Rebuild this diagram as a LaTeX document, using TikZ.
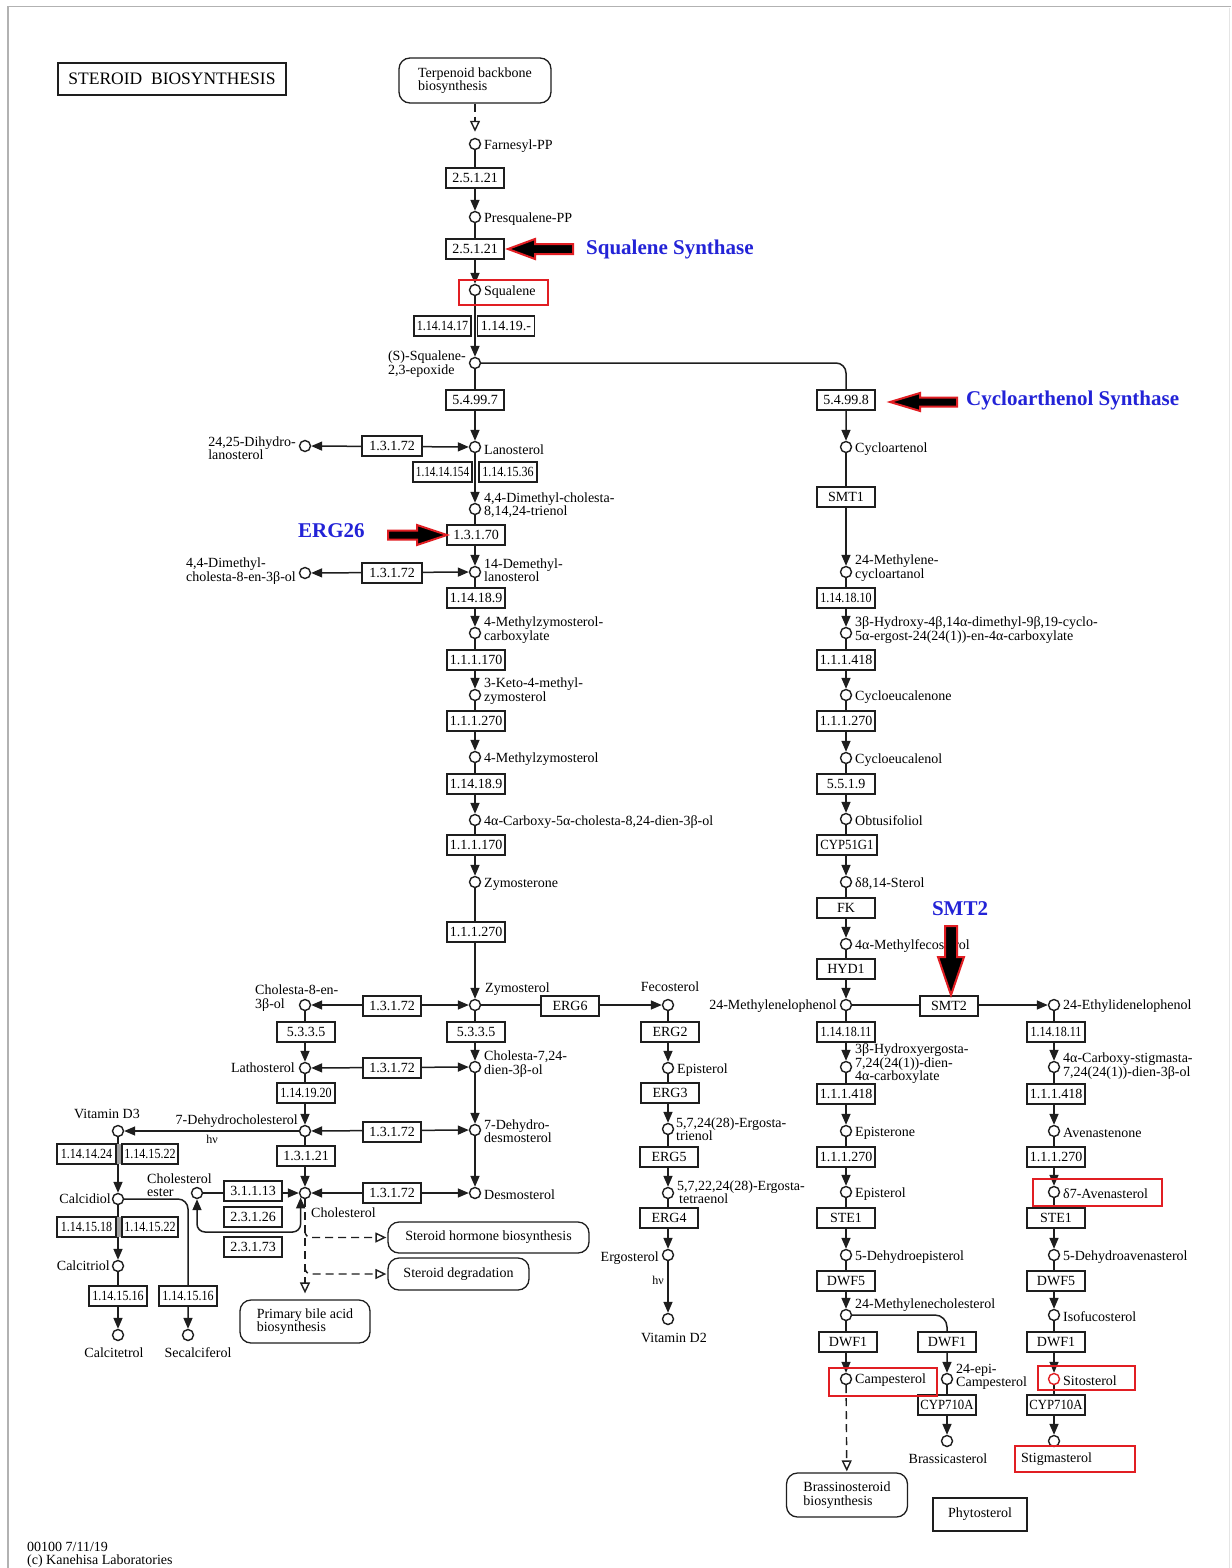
\documentclass[tikz,border=0pt]{standalone}
\usepackage{fontspec}
\usepackage{graphicx}
\setmainfont{Liberation Serif}
\usetikzlibrary{arrows.meta}
\pgfdeclarelayer{bgl}
\pgfdeclarelayer{edges}
\pgfsetlayers{bgl,edges,main}
\newcommand\labfont{\fontsize{14}{13.5}\selectfont}
\newcommand\bluefont{\fontsize{21}{21}\selectfont\bfseries}
\newcommand\sqz[1]{\scalebox{0.86}[1]{#1}}
\newcommand\sqzz[1]{\scalebox{0.8}[1]{#1}}
\newcommand\sqzc[1]{\scalebox{0.91}[1]{#1}}
\definecolor{kblue}{RGB}{35,35,215}
\definecolor{kred}{RGB}{225,30,35}
\definecolor{kline}{RGB}{30,30,30}
\begin{document}
\begin{tikzpicture}[x=1pt,y=-1pt,
 cpd/.style={circle,draw=kline,line width=1.4pt,minimum size=11pt,inner sep=0pt,fill=white},
 enz/.style={draw=kline,line width=1.3pt,fill=white,minimum width=58pt,minimum height=20pt,inner sep=1pt,font=\labfont},
 lab/.style={font=\labfont,inner sep=0pt,align=left},
 pmap/.style={draw=kline,rounded corners=11pt,line width=1.3pt,fill=white,font=\labfont,align=left,inner sep=2pt},
 rxn/.style={draw=kline,line width=1.5pt,-{Triangle[width=9pt,length=11pt]}},
 rxnb/.style={draw=kline,line width=1.5pt,{Triangle[width=9pt,length=11pt]}-{Triangle[width=9pt,length=11pt]}},
 dline/.style={draw=kline,line width=1.4pt,dash pattern=on 8pt off 5pt,-{Triangle[open,width=10pt,length=11pt]}},
 hlbox/.style={draw=kred,line width=2.8pt},
 bigarrow/.style={fill=black,draw=kred,line width=2pt,line join=miter},
 bluelab/.style={font=\bluefont,text=kblue,inner sep=0pt}]
\useasboundingbox (0,0) rectangle (1231,1568);
\begin{pgfonlayer}{bgl}
\fill[white] (0,0) rectangle (1231,1568);
\end{pgfonlayer}
\draw[gray!60,line width=1.5pt] (8,1568) -- (8,6.5) -- (1231,6.5);
\draw[gray!20,line width=1pt] (1229.5,8) -- (1229.5,1568);

% title and pathway maps
\node[draw=kline,line width=2.4pt,minimum width=228pt,minimum height=32pt,inner sep=0pt,font=\fontsize{17.5}{17.5}\selectfont] (title) at (172,79) {STEROID\ \ BIOSYNTHESIS};
\node[pmap,minimum width=152pt,minimum height=45pt] (terp) at (475,80.5) {Terpenoid backbone\\biosynthesis};
\node[pmap,minimum width=201pt,minimum height=31pt] (hormone) at (488.5,1237.5) {Steroid hormone biosynthesis};
\node[pmap,minimum width=141pt,minimum height=32pt] (degrad) at (458.5,1274) {Steroid degradation};
\node[pmap,minimum width=130pt,minimum height=43pt] (bile) at (305,1321.5) {Primary bile acid\\biosynthesis};
\node[pmap,minimum width=121pt,minimum height=44pt] (brassino) at (847,1495) {Brassinosteroid\\biosynthesis};
\node[draw=kline,line width=1.3pt,minimum width=94pt,minimum height=33pt,font=\labfont] (phyto) at (980,1514.5) {Phytosterol};

% main column compounds
\node[cpd] (farn) at (475,144) {};      \node[lab,anchor=west] (farnT) at (484,146) {Farnesyl-PP};
\node[cpd] (presq) at (475,217) {};     \node[lab,anchor=west] (presqT) at (484,219) {Presqualene-PP};
\node[cpd] (squal) at (475,290) {};     \node[lab,anchor=west] (squalT) at (484,292) {Squalene};
\node[cpd] (epox) at (475,363) {};      \node[lab,anchor=east] (epoxT) at (466,364) {(S)-Squalene-\\2,3-epoxide};
\node[cpd] (lano) at (475,447) {};      \node[lab,anchor=west] (lanoT) at (484,450) {Lanosterol};
\node[cpd] (dmct) at (475,509) {};      \node[lab,anchor=west] (dmctT) at (484,505) {4,4-Dimethyl-cholesta-\\8,14,24-trienol};
\node[cpd] (dml) at (475,572) {};       \node[lab,anchor=west] (dmlT) at (484,570) {14-Demethyl-\\lanosterol};
\node[cpd] (mzc) at (475,633) {};       \node[lab,anchor=west] (mzcT) at (484,630) {4-Methylzymosterol-\\carboxylate};
\node[cpd] (kmz) at (475,695) {};       \node[lab,anchor=west] (kmzT) at (484,691) {3-Keto-4-methyl-\\zymosterol};
\node[cpd] (mz) at (475,757) {};        \node[lab,anchor=west] (mzT) at (484,759) {4-Methylzymosterol};
\node[cpd] (carb) at (475,820) {};      \node[lab,anchor=west] (carbT) at (484,822) {4α-Carboxy-5α-cholesta-8,24-dien-3β-ol};
\node[cpd] (zymone) at (475,882) {};    \node[lab,anchor=west] (zymoneT) at (484,884) {Zymosterone};
\node[cpd] (zymol) at (475,1005) {};    \node[lab,anchor=west] (zymolT) at (485,989) {Zymosterol};
\node[cpd] (c724) at (475,1067) {};     \node[lab,anchor=west] (c724T) at (484,1064) {Cholesta-7,24-\\dien-3β-ol};
\node[cpd] (dhd) at (475,1130) {};      \node[lab,anchor=west] (dhdT) at (484,1131) {7-Dehydro-\\desmosterol};
\node[cpd] (desmo) at (475,1193) {};    \node[lab,anchor=west] (desmoT) at (484,1195) {Desmosterol};

% left side
\node[cpd] (dhl) at (305,446) {};       \node[lab,anchor=east] (dhlT) at (296,448) {24,25-Dihydro-\\lanosterol};
\node[cpd] (dmc8) at (305,573) {};      \node[lab,anchor=east] (dmc8T) at (296,571) {4,4-Dimethyl-\\cholesta-8-en-3β-ol};
\node[cpd] (c8) at (305,1005) {};       \node[lab,anchor=west] (c8T) at (255,998) {Cholesta-8-en-\\3β-ol};
\node[cpd] (latho) at (305,1068) {};    \node[lab,anchor=east] (lathoT) at (295,1068) {Lathosterol};
\node[cpd] (dhc) at (305,1131) {};      \node[lab,anchor=east] (dhcT) at (298,1121) {7-Dehydrocholesterol};
\node[cpd] (chol) at (305,1193) {};     \node[lab,anchor=west] (cholT) at (311,1213) {Cholesterol};
\node[cpd] (ester) at (197,1193) {};    \node[lab,anchor=west] (esterT) at (147,1185) {Cholesterol\\ester};
\node[cpd] (vd3) at (118,1131) {};      \node[lab] (vd3T) at (107,1114) {Vitamin D3};
\node[cpd] (calcidiol) at (118,1199) {};\node[lab,anchor=east] (calcidiolT) at (111,1199) {Calcidiol};
\node[cpd] (calcitriol) at (118,1266) {};\node[lab,anchor=east] (calcitriolT) at (110,1266) {Calcitriol};
\node[cpd] (calcitetrol) at (118,1335) {};\node[lab] (calcitetrolT) at (114,1353) {Calcitetrol};
\node[cpd] (secal) at (188,1335) {};    \node[lab] (secalT) at (198,1353) {Secalciferol};
\node[lab,font=\fontsize{12}{12}\selectfont] (hv1) at (212,1139) {hν};

% ergosterol branch
\node[cpd] (feco) at (668,1005) {};     \node[lab] (fecoT) at (670,987) {Fecosterol};
\node[cpd] (epi) at (668,1068) {};      \node[lab,anchor=west] (epiT) at (677,1070) {Episterol};
\node[cpd] (etri) at (668,1129) {};     \node[lab,anchor=west] (etriT) at (676,1129) {5,7,24(28)-Ergosta-\\trienol};
\node[cpd] (etet) at (668,1193) {};     \node[lab,anchor=west] (etetT) at (677,1192) {5,7,22,24(28)-Ergosta-\\\hspace*{2pt}tetraenol};
\node[cpd] (ergo) at (668,1255) {};     \node[lab,anchor=east] (ergoT) at (659,1258) {Ergosterol};
\node[cpd] (vd2) at (668,1319) {};      \node[lab] (vd2T) at (674,1338) {Vitamin D2};
\node[lab,font=\fontsize{12}{12}\selectfont] (hv2) at (658,1280) {hν};

% cycloartenol column
\node[cpd] (cyc) at (846,447) {};       \node[lab,anchor=west] (cycT) at (855,449) {Cycloartenol};
\node[cpd] (mca) at (846,572) {};       \node[lab,anchor=west] (mcaT) at (855,568) {24-Methylene-\\cycloartanol};
\node[cpd] (hdc) at (846,633) {};       \node[lab,anchor=west] (hdcT) at (855,630) {3β-Hydroxy-4β,14α-dimethyl-9β,19-cyclo-\\5α-ergost-24(24(1))-en-4α-carboxylate};
\node[cpd] (cycnone) at (846,695) {};   \node[lab,anchor=west] (cycnoneT) at (855,697) {Cycloeucalenone};
\node[cpd] (cycnol) at (846,758) {};    \node[lab,anchor=west] (cycnolT) at (855,760) {Cycloeucalenol};
\node[cpd] (obtus) at (846,819) {};     \node[lab,anchor=west] (obtusT) at (855,821) {Obtusifoliol};
\node[cpd] (d814) at (846,882) {};      \node[lab,anchor=west] (d814T) at (855,884) {δ8,14-Sterol};
\node[cpd] (mfec) at (846,944) {};      \node[lab,anchor=west] (mfecT) at (855,946) {4α-Methylfecosterol};
\node[cpd] (mlp) at (846,1005) {};      \node[lab,anchor=east] (mlpT) at (837,1006) {24-Methylenelophenol};
\node[cpd] (hed) at (846,1067) {};      \node[lab,anchor=west] (hedT) at (855,1064) {3β-Hydroxyergosta-\\7,24(24(1))-dien-\\4α-carboxylate};
\node[cpd] (episterone) at (846,1131) {};\node[lab,anchor=west] (episteroneT) at (855,1133) {Episterone};
\node[cpd] (episterol) at (846,1192) {};\node[lab,anchor=west] (episterolT) at (855,1194) {Episterol};
\node[cpd] (dhep) at (846,1255) {};     \node[lab,anchor=west] (dhepT) at (855,1257) {5-Dehydroepisterol};
\node[cpd] (mchol) at (846,1315) {};    \node[lab,anchor=west] (mcholT) at (855,1305) {24-Methylenecholesterol};
\node[cpd] (camp) at (846,1379) {};     \node[lab,anchor=west] (campT) at (855,1380) {Campesterol};
\node[cpd] (epicamp) at (947,1379) {};  \node[lab,anchor=west] (epicampT) at (956,1377) {24-epi-\\Campesterol};
\node[cpd] (brass) at (947,1441) {};    \node[lab] (brassT) at (948,1459) {Brassicasterol};

% far right column
\node[cpd] (elp) at (1054,1005) {};     \node[lab,anchor=west] (elpT) at (1063,1006) {24-Ethylidenelophenol};
\node[cpd] (cst) at (1054,1067) {};     \node[lab,anchor=west] (cstT) at (1063,1066) {4α-Carboxy-stigmasta-\\7,24(24(1))-dien-3β-ol};
\node[cpd] (aven) at (1054,1131) {};    \node[lab,anchor=west] (avenT) at (1063,1133) {Avenastenone};
\node[cpd] (d7av) at (1054,1192) {};    \node[lab,anchor=west] (d7avT) at (1063,1194) {δ7-Avenasterol};
\node[cpd] (dhav) at (1054,1255) {};    \node[lab,anchor=west] (dhavT) at (1063,1257) {5-Dehydroavenasterol};
\node[cpd] (isof) at (1054,1315) {};    \node[lab,anchor=west] (isofT) at (1063,1317) {Isofucosterol};
\node[cpd,draw=kred] (sito) at (1054,1379) {};\node[lab,anchor=west] (sitoT) at (1063,1381) {Sitosterol};
\node[cpd] (stig) at (1054,1441) {};    \node[lab,anchor=west] (stigT) at (1021,1459) {Stigmasterol};

% enzymes, main column
\node[enz] (e1) at (475,178) {2.5.1.21};
\node[enz] (e2) at (475,249) {2.5.1.21};
\node[enz,minimum width=57pt] (e3a) at (442.5,326) {\sqz{1.14.14.17}};
\node[enz,minimum width=57pt] (e3b) at (506,326) {1.14.19.-};
\node[enz] (e4) at (475,400) {5.4.99.7};
\node[enz,minimum width=60pt] (e5) at (392,446) {1.3.1.72};
\node[enz,minimum width=59pt] (e6a) at (442.5,472) {\sqzz{1.14.14.154}};
\node[enz] (e6b) at (508,472) {\sqz{1.14.15.36}};
\node[enz] (e7) at (476,535) {1.3.1.70};
\node[enz,minimum width=60pt] (e8) at (392,573) {1.3.1.72};
\node[enz] (e9) at (476,598) {1.14.18.9};
\node[enz] (e10) at (476,660) {1.1.1.170};
\node[enz] (e11) at (476,721) {1.1.1.270};
\node[enz] (e12) at (476,784) {1.14.18.9};
\node[enz] (e13) at (476,845) {1.1.1.170};
\node[enz] (e14) at (476,932) {1.1.1.270};
\node[enz] (e15) at (392,1006) {1.3.1.72};
\node[enz] (e16) at (570,1006) {ERG6};
\node[enz] (e17) at (476,1032) {5.3.3.5};
\node[enz] (e18) at (306,1032) {5.3.3.5};
\node[enz] (e19) at (392,1068) {1.3.1.72};
\node[enz] (e20) at (306,1093) {\sqz{1.14.19.20}};
\node[enz] (e21) at (392,1132) {1.3.1.72};
\node[enz] (e22) at (306,1156) {1.3.1.21};
\node[enz] (e23) at (392,1193) {1.3.1.72};
\node[enz] (e24) at (253,1191) {3.1.1.13};
\node[enz] (e25) at (253,1217) {2.3.1.26};
\node[enz] (e26) at (253,1247) {2.3.1.73};
\node[enz,minimum width=59pt] (e27a) at (86.5,1154) {\sqz{1.14.14.24}};
\node[enz,minimum width=56pt] (e27b) at (150,1154) {\sqz{1.14.15.22}};
\node[enz,minimum width=59pt] (e28a) at (86.5,1227) {\sqz{1.14.15.18}};
\node[enz,minimum width=56pt] (e28b) at (150,1227) {\sqz{1.14.15.22}};
\fill[gray!75] ([yshift=-0.5pt]e27a.north east) rectangle ([yshift=0.5pt]e27b.south west);
\fill[gray!75] ([yshift=-0.5pt]e28a.north east) rectangle ([yshift=0.5pt]e28b.south west);
\node[enz] (e29) at (118,1296) {\sqz{1.14.15.16}};
\node[enz] (e30) at (188,1296) {\sqz{1.14.15.16}};
% ergosterol branch enzymes
\node[enz] (erg2) at (670,1032) {ERG2};
\node[enz] (erg3) at (670,1093) {ERG3};
\node[enz] (erg5) at (669,1157) {ERG5};
\node[enz] (erg4) at (669,1218) {ERG4};
% cycloartenol column enzymes
\node[enz] (r1) at (846,400) {5.4.99.8};
\node[enz] (r2) at (846,497) {SMT1};
\node[enz] (r3) at (846,598) {\sqz{1.14.18.10}};
\node[enz] (r4) at (846,660) {1.1.1.418};
\node[enz] (r5) at (846,721) {1.1.1.270};
\node[enz] (r6) at (846,784) {5.5.1.9};
\node[enz,minimum width=60pt] (r7) at (847,845) {\sqzc{CYP51G1}};
\node[enz] (r8) at (846,908) {FK};
\node[enz] (r9) at (846,969) {HYD1};
\node[enz] (r10) at (846,1032) {\sqz{1.14.18.11}};
\node[enz] (r11) at (846,1094) {1.1.1.418};
\node[enz] (r12) at (846,1157) {1.1.1.270};
\node[enz] (r13) at (846,1218) {STE1};
\node[enz] (r14) at (846,1281) {DWF5};
\node[enz] (r15) at (848,1342) {DWF1};
\node[enz] (s1) at (949,1006) {SMT2};
\node[enz] (s2) at (947,1342) {DWF1};
\node[enz] (s3) at (947,1405) {\sqzc{CYP710A}};
% far right enzymes
\node[enz] (t1) at (1056,1032) {\sqz{1.14.18.11}};
\node[enz] (t2) at (1056,1094) {1.1.1.418};
\node[enz] (t3) at (1056,1157) {1.1.1.270};
\node[enz] (t4) at (1056,1218) {STE1};
\node[enz] (t5) at (1056,1281) {DWF5};
\node[enz] (t6) at (1056,1342) {DWF1};
\node[enz] (t7) at (1056,1405) {\sqzc{CYP710A}};

% highlight boxes
\draw[hlbox] (459,280) rectangle (548,305);
\draw[hlbox] (1033,1179) rectangle (1162,1206);
\draw[hlbox] (829,1368) rectangle (937,1396);
\draw[hlbox] (1038,1366) rectangle (1135,1390);
\draw[hlbox] (1015,1446) rectangle (1135,1472);

% footer
\node[lab,anchor=west] (foot) at (27,1555) {00100 7/11/19\\(c) Kanehisa Laboratories};

% connectors
\coordinate (hk1) at (305,1229);
\coordinate (hk2) at (305,1266);
\begin{pgfonlayer}{edges}
\draw[rxn] (farn) -- (presq);
\draw[rxn] (presq) -- (squal);
\draw[rxn] (squal) -- (epox);
\draw[rxn] (epox) -- (lano);
\draw[rxn] (lano) -- (dmct);
\draw[rxn] (dmct) -- (dml);
\draw[rxn] (dml) -- (mzc);
\draw[rxn] (mzc) -- (kmz);
\draw[rxn] (kmz) -- (mz);
\draw[rxn] (mz) -- (carb);
\draw[rxn] (carb) -- (zymone);
\draw[rxn] (zymone) -- (zymol);
\draw[rxn] (zymol) -- (c724);
\draw[rxn] (c724) -- (dhd);
\draw[rxn] (dhd) -- (desmo);
\draw[rxnb] (dhl) -- (lano);
\draw[rxnb] (dmc8) -- (dml);
\draw[rxnb] (c8) -- (zymol);
\draw[rxnb] (latho) -- (c724);
\draw[rxnb] (dhc) -- (dhd);
\draw[rxnb] (chol) -- (desmo);
\draw[rxn] (c8) -- (latho);
\draw[rxn] (latho) -- (dhc);
\draw[rxn] (dhc) -- (chol);
\draw[rxn] (ester) -- (chol);
\draw[rxnb,rounded corners=8pt] (ester) -- ++(0,39) -| (chol.south west);
\draw[rxn] (dhc) -- (vd3);
\draw[rxn] (vd3) -- (calcidiol);
\draw[rxn] (calcidiol) -- (calcitriol);
\draw[rxn] (calcitriol) -- (calcitetrol);
\draw[rxn,rounded corners=10pt] (calcidiol) -| (secal);
\draw[rxn] (zymol) -- (feco);
\draw[rxn] (feco) -- (epi);
\draw[rxn] (epi) -- (etri);
\draw[rxn] (etri) -- (etet);
\draw[rxn] (etet) -- (ergo);
\draw[rxn] (ergo) -- (vd2);
\draw[rxn,rounded corners=10pt] (epox) -| (cyc);
\draw[rxn] (cyc) -- (mca);
\draw[rxn] (mca) -- (hdc);
\draw[rxn] (hdc) -- (cycnone);
\draw[rxn] (cycnone) -- (cycnol);
\draw[rxn] (cycnol) -- (obtus);
\draw[rxn] (obtus) -- (d814);
\draw[rxn] (d814) -- (mfec);
\draw[rxn] (mfec) -- (mlp);
\draw[rxn] (mlp) -- (hed);
\draw[rxn] (hed) -- (episterone);
\draw[rxn] (episterone) -- (episterol);
\draw[rxn] (episterol) -- (dhep);
\draw[rxn] (dhep) -- (mchol);
\draw[rxn] (mchol) -- (camp);
\draw[rxn,rounded corners=12pt] (mchol) -| (epicamp);
\draw[rxn] (epicamp) -- (brass);
\draw[rxn] (mlp) -- (elp);
\draw[rxn] (elp) -- (cst);
\draw[rxn] (cst) -- (aven);
\draw[rxn] (aven) -- (d7av);
\draw[rxn] (d7av) -- (dhav);
\draw[rxn] (dhav) -- (isof);
\draw[rxn] (isof) -- (sito);
\draw[rxn] (sito) -- (stig);
\draw[dline,shorten >=6pt] (terp) -- (farn);
\draw[dline,shorten >=6pt] (chol) -- (bile);
\draw[dline,rounded corners=6pt,shorten >=1pt] (hk1) |- (hormone.west);
\draw[dline,rounded corners=6pt,shorten >=1pt] (hk2) |- (degrad.west);
\draw[dline,shorten >=1pt] (camp) -- (brassino);
\end{pgfonlayer}

% annotation arrows and labels
\draw[bigarrow] (508,249) -- (535,239) -- (535,244) -- (573,244) -- (573,254) -- (535,254) -- (535,259) -- cycle;
\node[bluelab,anchor=west] (lblSqs) at (586,249) {Squalene Synthase};
\draw[bigarrow] (890,402) -- (920,393) -- (920,397.5) -- (957,397.5) -- (957,406.5) -- (920,406.5) -- (920,411) -- cycle;
\node[bluelab,anchor=west] (lblCas) at (966,400) {Cycloarthenol Synthase};
\draw[bigarrow] (447,535) -- (417,525) -- (417,530.5) -- (388,530.5) -- (388,539.5) -- (417,539.5) -- (417,545) -- cycle;
\node[bluelab,anchor=west] (lblErg) at (298,531) {ERG26};
\draw[bigarrow] (951,995) -- (938,957) -- (945,957) -- (945,926) -- (957,926) -- (957,957) -- (964,957) -- cycle;
\node[bluelab] (lblSmt) at (960,909) {SMT2};
\end{tikzpicture}
\end{document}
